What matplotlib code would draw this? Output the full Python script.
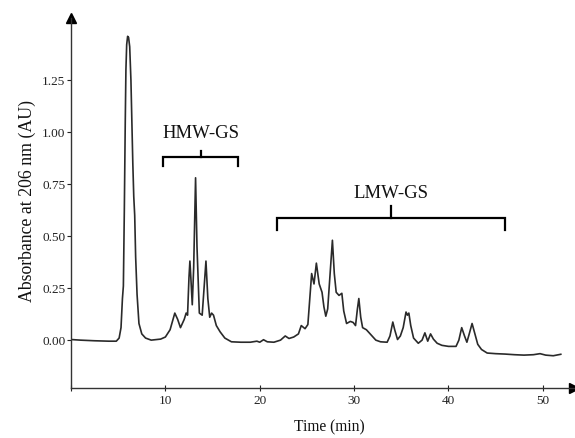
import matplotlib
matplotlib.use("Agg")
import matplotlib.pyplot as plt

# ---- data ----
time_min = [0.0, 1.0, 2.5, 4.0, 4.8, 5.1, 5.3, 5.45, 5.55, 5.65, 5.75, 5.82, 5.9, 6.0,
            6.1, 6.22, 6.35, 6.45, 6.55, 6.65, 6.75, 6.85, 7.0, 7.2, 7.5, 7.9, 8.5, 9.5,
            10.0, 10.5, 11.0, 11.3, 11.6, 12.0, 12.2, 12.35, 12.5, 12.6, 12.7, 12.85,
            13.0, 13.2, 13.35, 13.6, 13.9, 14.1, 14.3, 14.5, 14.7, 14.9, 15.1, 15.4,
            15.8, 16.3, 17.0, 18.0, 19.0, 19.7, 20.0, 20.4, 20.8, 21.5, 22.2, 22.7,
            23.1, 23.6, 24.1, 24.4, 24.8, 25.1, 25.3, 25.5, 25.75, 26.0, 26.3, 26.6,
            26.8, 27.0, 27.2, 27.5, 27.7, 27.9, 28.1, 28.4, 28.7, 28.9, 29.2, 29.6,
            29.9, 30.15, 30.35, 30.5, 30.7, 30.9, 31.3, 31.6, 31.9, 32.3, 32.8, 33.5,
            33.8, 34.1, 34.3, 34.6, 34.9, 35.2, 35.5, 35.65, 35.8, 36.0, 36.3, 36.8,
            37.2, 37.5, 37.8, 38.1, 38.4, 38.8, 39.3, 40.0, 40.8, 41.1, 41.4, 41.7,
            41.95, 42.2, 42.5, 42.8, 43.1, 43.5, 44.1, 45.0, 46.0, 47.0, 48.0, 49.0,
            49.7, 50.3, 51.1, 51.9]
absorbance = [0.003, 0.0, -0.003, -0.005, -0.005, 0.01, 0.06, 0.2, 0.26, 0.62, 1.05,
              1.3, 1.42, 1.46, 1.455, 1.41, 1.25, 1.05, 0.85, 0.69, 0.6, 0.4, 0.22, 0.08,
              0.03, 0.01, 0.0, 0.005, 0.015, 0.05, 0.13, 0.1, 0.06, 0.1, 0.13, 0.12, 0.3,
              0.38, 0.3, 0.17, 0.35, 0.78, 0.45, 0.13, 0.12, 0.25, 0.38, 0.2, 0.11, 0.13,
              0.12, 0.07, 0.04, 0.01, -0.008, -0.01, -0.01, -0.005, -0.01, 0.002, -0.008,
              -0.01, 0.0, 0.02, 0.008, 0.015, 0.03, 0.07, 0.055, 0.075, 0.2, 0.32, 0.27,
              0.37, 0.27, 0.23, 0.16, 0.115, 0.15, 0.35, 0.48, 0.32, 0.23, 0.215, 0.225,
              0.14, 0.08, 0.09, 0.085, 0.07, 0.15, 0.2, 0.11, 0.06, 0.05, 0.035, 0.02,
              0.0, -0.008, -0.01, 0.02, 0.087, 0.05, 0.003, 0.02, 0.06, 0.135, 0.12, 0.13,
              0.07, 0.01, -0.015, 0.0, 0.035, -0.005, 0.03, 0.005, -0.015, -0.025, -0.03,
              -0.03, 0.0, 0.06, 0.02, -0.01, 0.03, 0.08, 0.03, -0.02, -0.045, -0.062,
              -0.065, -0.067, -0.07, -0.072, -0.07, -0.065, -0.072, -0.075, -0.068]

x_ticks = [0, 10, 20, 30, 40, 50]
x_tick_labels = ["", "10", "20", "30", "40", "50"]
y_ticks = [0.0, 0.25, 0.5, 0.75, 1.0, 1.25]
y_tick_labels = ["0.00", "0.25", "0.50", "0.75", "1.00", "1.25"]

group_labels = ["HMW-GS", "LMW-GS"]
group_start = [9.75, 21.8]
group_end = [17.7, 46.0]
group_level = [0.88, 0.587]

# ---- figure ----
SERIF = ["Liberation Serif", "DejaVu Serif"]
fig = plt.figure(figsize=(5.75, 4.38), dpi=100)
ax = fig.add_axes([71 / 575, 1 - 388 / 438, (574 - 71) / 575, (388 - 18) / 438])

ax.plot(time_min, absorbance, color="#2a2a2a", lw=1.2, solid_joinstyle="round")

ax.set_xlim(0, 53.3)
ax.set_ylim(-0.23, 1.548)

for s in ("top", "right"):
    ax.spines[s].set_visible(False)
for s in ("left", "bottom"):
    ax.spines[s].set_color("#333333")
    ax.spines[s].set_linewidth(1.0)

ax.set_xticks(x_ticks)
ax.set_xticklabels(x_tick_labels, fontfamily=SERIF, fontsize=9.5)
ax.set_yticks(y_ticks)
ax.set_yticklabels(y_tick_labels, fontfamily=SERIF, fontsize=9.5)
ax.tick_params(axis="x", direction="inout", length=4, width=0.8, pad=3, colors="#222222")
ax.tick_params(axis="y", direction="out", length=3, width=0.8, pad=1, colors="#222222")

# arrow heads on axes
ax.plot(1, 0, marker=">", color="black", markersize=7, transform=ax.transAxes, clip_on=False)
ax.plot(0, 1, marker="^", color="black", markersize=7, transform=ax.transAxes, clip_on=False)

# brackets
tip = [0.043, 0.057]
rise = [0.03, 0.058]
text_gap = [0.082, 0.062]
for lab, s, e, lv, tp, rs, tg in zip(group_labels, group_start, group_end, group_level,
                                     tip, rise, text_gap):
    mid = (s + e) / 2
    ax.plot([s, s, e, e], [lv - tp, lv, lv, lv - tp], color="black", lw=1.6,
            solid_joinstyle="miter")
    ax.plot([mid, mid], [lv, lv + rs], color="black", lw=1.6)
    ax.text(mid, lv + rs + tg, lab, ha="center", va="center",
            fontfamily=SERIF, fontsize=13.5, color="#111111")

fig.text(27 / 575, 1 - 201 / 438, "Absorbance at 206 nm (AU)", rotation=90,
         ha="center", va="center", fontfamily=SERIF, fontsize=12.8, color="#111111")
fig.text(329 / 575, 1 - 427 / 438, "Time (min)", ha="center", va="center",
         fontfamily=SERIF, fontsize=11.2, color="#111111")

fig.savefig("out.png", dpi=100)
